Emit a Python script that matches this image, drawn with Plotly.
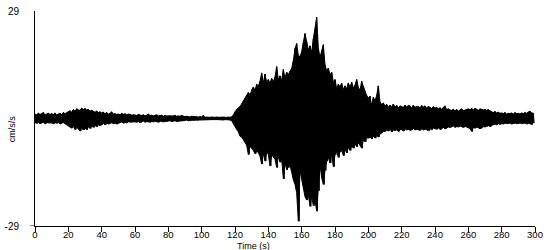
import plotly.graph_objects as go

# Envelope of the accelerogram, one value per second (cm/s/s)
t_start = list(range(0, 300))
upper = [
    1.2,1.0,1.4,1.1,1.3,1.6,1.0,1.2,1.4,1.1,
    1.3,1.1,1.5,1.0,1.2,1.4,1.1,1.6,1.3,1.5,
    1.8,2.1,1.7,2.4,2.0,2.6,2.3,2.2,2.8,2.4,
    2.7,2.3,2.5,2.0,2.2,1.9,1.7,2.0,1.6,1.8,
    1.5,1.7,1.3,1.6,1.2,1.4,1.8,1.2,1.3,1.1,
    1.2,1.0,1.4,1.1,1.3,1.0,1.2,1.1,0.9,1.0,
    1.0,0.8,1.1,0.9,0.8,1.0,0.7,0.9,1.2,0.8,
    0.9,0.7,0.8,1.0,0.7,0.8,0.9,0.6,0.8,0.7,
    0.7,0.8,0.6,0.7,0.9,0.6,0.7,0.6,0.8,0.6,
    0.5,0.6,0.5,0.4,0.6,0.5,0.4,0.5,0.4,0.5,
    0.4,0.9,0.3,0.4,0.3,0.3,0.4,0.3,0.3,0.4,
    0.3,0.3,0.4,0.3,0.3,0.3,0.4,0.3,0.5,0.9,
    1.8,2.5,2.9,3.2,4.0,4.8,5.5,6.2,7.0,6.5,
    7.8,8.5,7.6,9.2,8.8,10.0,12.3,9.5,12.0,9.8,
    10.5,9.6,10.8,9.9,11.2,14.0,10.4,11.5,10.2,13.2,
    11.0,12.5,11.9,12.8,13.5,15.5,18.9,20.2,17.0,16.7,
    18.0,20.5,22.9,20.7,18.5,19.6,17.8,21.5,24.0,27.3,
    19.0,16.5,18.2,19.9,14.5,12.8,13.6,11.8,12.5,9.8,
    10.5,8.1,9.2,8.6,9.5,7.8,8.8,8.0,9.6,8.4,
    9.8,8.2,9.0,10.5,8.4,7.6,10.0,8.5,7.4,6.2,
    5.5,6.0,3.5,5.7,4.8,6.2,8.8,4.5,3.8,4.2,
    3.4,3.8,3.0,3.6,3.2,3.9,3.1,3.5,2.9,3.4,
    3.3,3.0,3.6,3.1,3.5,3.4,2.8,3.6,3.0,3.3,
    3.2,2.9,3.5,3.1,3.4,2.8,3.3,3.0,2.7,3.2,
    2.8,3.0,2.6,2.9,2.5,3.0,3.4,2.4,2.6,2.3,
    2.2,2.5,2.1,2.4,2.0,2.3,2.6,2.1,2.3,2.4,
    2.6,2.4,2.7,2.3,2.8,2.5,2.2,2.6,2.4,2.3,
    2.5,2.2,2.4,2.0,1.8,1.6,1.9,1.5,1.7,1.4,
    1.5,1.3,1.6,1.2,1.4,1.3,1.5,1.2,1.6,1.3,
    1.4,1.2,1.5,1.3,1.6,1.4,1.8,2.0,1.5,1.4,
]
lower = [
    -1.1,-1.3,-1.0,-1.4,-1.2,-1.0,-1.5,-1.1,-1.3,-1.2,
    -1.2,-1.4,-1.1,-1.3,-1.0,-1.5,-1.2,-1.1,-1.4,-1.6,
    -1.9,-2.3,-2.6,-2.0,-3.0,-2.4,-2.8,-3.4,-2.5,-3.1,
    -2.6,-3.0,-2.2,-2.7,-2.0,-2.4,-1.9,-2.2,-1.7,-1.9,
    -1.6,-1.3,-1.7,-1.2,-1.5,-1.3,-1.1,-1.4,-1.2,-1.5,
    -1.2,-1.1,-0.9,-1.3,-1.0,-1.2,-0.9,-1.1,-1.0,-0.9,
    -0.9,-1.0,-0.8,-1.1,-0.9,-0.7,-1.0,-0.8,-0.9,-1.0,
    -0.8,-0.9,-0.7,-0.8,-1.0,-0.7,-0.8,-0.9,-0.7,-0.8,
    -0.7,-0.6,-0.8,-0.7,-0.6,-0.8,-0.7,-0.6,-0.7,-0.6,
    -0.5,-0.4,-0.6,-0.5,-0.4,-0.5,-0.4,-0.5,-0.4,-0.4,
    -0.3,-0.4,-0.3,-0.3,-0.4,-0.3,-0.3,-0.3,-0.4,-0.3,
    -0.3,-0.3,-0.3,-0.4,-0.3,-0.3,-0.3,-0.4,-0.6,-1.2,
    -2.2,-3.0,-3.6,-4.8,-5.0,-5.8,-6.5,-7.2,-9.7,-7.5,
    -8.0,-8.6,-9.5,-8.8,-9.2,-10.2,-12.3,-9.4,-11.5,-9.0,
    -9.7,-12.8,-9.8,-10.5,-11.0,-13.2,-10.2,-11.8,-10.8,-16.3,
    -12.0,-13.8,-13.2,-12.5,-14.5,-16.5,-17.8,-20.0,-27.7,-14.0,
    -16.0,-19.0,-21.1,-22.0,-20.5,-23.7,-21.0,-23.5,-22.0,-25.0,
    -19.5,-12.5,-16.0,-17.8,-14.0,-11.5,-10.5,-12.0,-9.5,-13.0,
    -9.8,-8.8,-10.5,-9.0,-8.5,-10.0,-8.2,-9.3,-7.8,-8.6,
    -7.4,-8.0,-6.8,-7.6,-6.5,-7.2,-8.0,-5.8,-6.3,-5.2,
    -5.3,-5.0,-5.5,-4.8,-5.3,-4.6,-5.0,-4.2,-3.8,-3.5,
    -3.5,-3.0,-3.4,-2.8,-3.6,-3.1,-3.3,-2.9,-3.5,-3.0,
    -3.0,-3.4,-2.8,-3.1,-2.9,-3.2,-3.0,-2.7,-3.1,-2.9,
    -3.0,-3.2,-2.7,-3.1,-2.8,-3.0,-3.3,-2.8,-3.0,-2.6,
    -2.7,-2.9,-2.5,-3.0,-2.6,-2.4,-2.8,-2.5,-2.3,-2.4,
    -2.2,-2.0,-2.4,-2.1,-2.3,-2.0,-2.2,-2.4,-2.1,-2.3,
    -2.5,-2.7,-3.5,-2.4,-2.6,-2.3,-2.5,-2.8,-2.4,-2.2,
    -2.3,-2.1,-1.9,-2.2,-1.8,-1.6,-1.5,-1.7,-1.4,-1.6,
    -1.3,-1.5,-1.2,-1.4,-1.3,-1.2,-1.5,-1.3,-1.2,-1.4,
    -1.3,-1.2,-1.4,-1.3,-1.2,-1.5,-1.3,-1.4,-1.6,-1.2,
]
x_ticks = [0, 20, 40, 60, 80, 100, 120, 140, 160, 180, 200, 220, 240, 260, 280, 300]
y_ticks = [-29, 29]

FONT = "Liberation Sans, Arial, sans-serif"

fig = go.Figure()
# Solid core of the trace: polygon between upper and lower envelopes
fig.add_trace(go.Scatter(
    x=t_start + t_start[::-1], y=upper + lower[::-1],
    mode="lines", fill="toself", fillcolor="black",
    line=dict(color="black", width=1), hoverinfo="skip"))
# Oscillating trace on top, alternating between the envelopes
xs, ys = [], []
for t, u, l in zip(t_start, upper, lower):
    xs += [t, t + 0.5]
    ys += [u, l]
fig.add_trace(go.Scatter(x=xs, y=ys, mode="lines",
                         line=dict(color="black", width=1), hoverinfo="skip"))

fig.update_layout(
    width=550, height=250,
    margin=dict(l=35, r=15, t=5, b=24),
    paper_bgcolor="white", plot_bgcolor="white",
    showlegend=False,
    font=dict(family=FONT, size=10, color="black"),
    xaxis=dict(range=[0, 300], tickvals=x_ticks, showgrid=False, zeroline=False,
               showline=True, linecolor="black", linewidth=1,
               ticks="outside", ticklen=5, tickcolor="black",
               ticklabelstandoff=-5,
               tickfont=dict(family=FONT, size=9.5, color="black")),
    yaxis=dict(range=[-29, 29], tickvals=y_ticks, ticktext=["-29", "29"],
               showgrid=False, zeroline=False,
               showline=True, linecolor="black", linewidth=1,
               ticks="", ticklabelstandoff=13, ticklabeloverflow="allow",
               tickfont=dict(family=FONT, size=10, color="black")),
    annotations=[
        dict(text="Time (s)", xref="paper", yref="paper", x=0.436, y=0,
             yshift=-13, xanchor="center", yanchor="top", showarrow=False,
             font=dict(family=FONT, size=9, color="black")),
        dict(text="cm/s/s", xref="paper", yref="paper", x=0, y=0.45,
             xshift=-23, xanchor="center", yanchor="middle", textangle=-90,
             showarrow=False, font=dict(family=FONT, size=9, color="black")),
    ],
    shapes=[dict(type="line", xref="paper", yref="y", x0=-0.01, x1=0,
                 y0=-29, y1=-29, line=dict(color="black", width=1))],
)

fig.write_html("out.html")
